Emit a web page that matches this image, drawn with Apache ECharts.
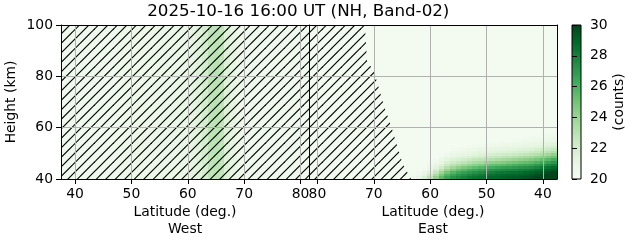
<!DOCTYPE html>
<html><head><meta charset="utf-8">
<script src="https://cdn.jsdelivr.net/npm/echarts@6/dist/echarts.min.js"></script>
<style>html,body{margin:0;padding:0;background:#fff}#c{width:631px;height:243px}</style>
</head><body><div id="c"></div>
<script>
// ---------- data ----------
const titleText = '2025-10-16 16:00 UT (NH, Band-02)';
const latTicks = [40, 50, 60, 70, 80];
const latRange = [37.5, 81.5];
const heightRange = [40, 100];
const heightStep = 20;
const countRange = [20, 30];
const countStep = 2;
const greens = ['#f7fcf5', '#e5f5e0', '#c7e9c0', '#a1d99b', '#74c476', '#41ab5d', '#238b45', '#006d2c', '#00441b'];

// cell centres (deg), each cell 1 deg wide
const latCenters = [38,39,40,41,42,43,44,45,46,47,48,49,50,51,52,53,54,55,56,57,58,59,60,61,62,63,64,65,66,67,68,69,70,71,72,73,74,75,76,77,78,79,80,81];
// West panel: counts per latitude column (uniform in height)
const westValues = [20.5,20.5,20.5,20.5,20.5,20.5,20.5,20.5,20.5,20.5,20.6,20.6,20.6,20.7,20.7,20.7,20.7,20.8,20.8,20.8,20.8,20.9,21.0,21.2,21.5,22.0,22.8,22.9,22.7,21.6,21.1,20.7,20.6,20.5,20.5,20.5,20.5,20.5,20.5,20.5,20.5,20.5,20.5,20.5];
// East panel: vertical profiles (40 km upward, 1 km cells) for lat 38..63; above each profile -> eastBase
const eastProfileLats = [38,39,40,41,42,43,44,45,46,47,48,49,50,51,52,53,54,55,56,57,58,59,60,61,62,63];
const eastProfiles = [
  [30,30,30,29.5,28.8,28.0,27.1,26.1,25.1,24.2,23.3,22.6,22.0,21.5,21.1,20.9,20.7,20.5,20.4,20.3],
  [30,30,29.8,29.2,28.5,27.7,26.7,25.7,24.7,23.8,23.0,22.3,21.8,21.4,21.0,20.8,20.6,20.4,20.3],
  [30,29.9,29.5,28.9,28.2,27.3,26.3,25.3,24.3,23.4,22.7,22.1,21.6,21.2,20.9,20.7,20.5,20.4,20.3],
  [29.9,29.6,29.2,28.6,27.8,26.9,25.9,24.9,24.0,23.1,22.4,21.9,21.4,21.1,20.8,20.6,20.4,20.3],
  [29.7,29.4,29.0,28.3,27.5,26.6,25.6,24.6,23.7,22.9,22.2,21.7,21.3,21.0,20.7,20.5,20.4,20.3],
  [29.5,29.2,28.8,28.1,27.3,26.4,25.4,24.4,23.5,22.7,22.0,21.6,21.2,20.9,20.7,20.5,20.3],
  [29.4,29.1,28.6,28.0,27.2,26.2,25.2,24.2,23.3,22.5,21.9,21.5,21.1,20.8,20.6,20.4,20.3],
  [29.3,29.0,28.5,27.8,27.0,26.0,25.0,24.0,23.1,22.4,21.8,21.4,21.0,20.8,20.6,20.4,20.3],
  [29.2,28.9,28.4,27.7,26.8,25.8,24.8,23.8,22.9,22.2,21.7,21.3,21.0,20.7,20.5,20.3],
  [29.1,28.8,28.3,27.6,26.7,25.6,24.6,23.6,22.8,22.1,21.6,21.2,20.9,20.7,20.5,20.3],
  [29.0,28.7,28.2,27.4,26.5,25.4,24.4,23.4,22.6,22.0,21.5,21.2,20.9,20.6,20.4,20.3],
  [28.9,28.6,28.0,27.2,26.2,25.2,24.2,23.2,22.5,21.9,21.4,21.1,20.8,20.6,20.4,20.3],
  [28.8,28.4,27.8,27.0,26.0,24.9,23.9,23.0,22.3,21.7,21.3,21.0,20.7,20.5,20.3],
  [28.6,28.2,27.5,26.7,25.7,24.6,23.6,22.8,22.1,21.6,21.2,20.9,20.6,20.4,20.3],
  [28.4,28.0,27.3,26.4,25.4,24.3,23.4,22.6,21.9,21.4,21.0,20.8,20.6,20.4,20.3],
  [28.2,27.7,27.0,26.1,25.1,24.0,23.1,22.3,21.7,21.2,20.9,20.7,20.5,20.3],
  [27.9,27.4,26.7,25.7,24.7,23.7,22.8,22.1,21.5,21.1,20.8,20.6,20.4,20.3],
  [27.6,27.1,26.3,25.3,24.3,23.3,22.5,21.8,21.3,21.0,20.7,20.5,20.3],
  [27.2,26.6,25.8,24.8,23.8,22.9,22.2,21.6,21.1,20.8,20.6,20.4,20.3],
  [26.5,25.9,25.0,24.0,23.1,22.3,21.7,21.2,20.9,20.6,20.4,20.3],
  [25.5,24.8,23.9,23.0,22.2,21.6,21.1,20.8,20.5,20.4,20.3],
  [24.2,23.5,22.7,22.0,21.4,21.0,20.7,20.5,20.3],
  [22.8,22.2,21.6,21.1,20.8,20.5,20.4,20.3],
  [21.8,21.3,20.9,20.6,20.4,20.3],
  [21.0,20.7,20.5,20.3],
  [20.6,20.4,20.3]
];
const eastBase = 20.25;
// hatched (masked) regions, outline in (lat, height)
const westHatchLat = [37.5, 37.5, 81.5, 81.5];
const westHatchHeight = [40, 100, 100, 40];
const eastHatchLat = [81.5, 71.6, 71.2, 70.0, 68.1, 66.7, 64.9, 63.4, 81.5];
const eastHatchHeight = [100, 100, 86, 82, 68, 59, 46, 40, 40];

// ---------- build series data ----------
const westCells = latCenters.map((la, i) => [la - 0.5, la + 0.5, heightRange[0], heightRange[1], westValues[i]]);
const eastCells = [];
latCenters.forEach((la) => {
  const pi = eastProfileLats.indexOf(la);
  const prof = pi >= 0 ? eastProfiles[pi] : [];
  prof.forEach((v, k) => eastCells.push([la - 0.5, la + 0.5, heightRange[0] + k, heightRange[0] + k + 1, v]));
  eastCells.push([la - 0.5, la + 0.5, heightRange[0] + prof.length, heightRange[1], eastBase]);
});

// hatch tile ("//" hatch)
const tileSize = 19;
const tile = document.createElement('canvas');
tile.width = tileSize; tile.height = tileSize;
const tctx = tile.getContext('2d');
tctx.strokeStyle = '#000'; tctx.lineWidth = 1.15;
for (let k = 0; k <= 4; k++) {
  const c = k * tileSize / 2;
  tctx.beginPath(); tctx.moveTo(c + 3, -3); tctx.lineTo(-3, c + 3); tctx.stroke();
}

function renderCell(params, api) {
  const a = api.coord([api.value(0), api.value(3)]);
  const b = api.coord([api.value(1), api.value(2)]);
  const x0 = Math.round(Math.min(a[0], b[0])), x1 = Math.round(Math.max(a[0], b[0]));
  const y0 = Math.round(Math.min(a[1], b[1])), y1 = Math.round(Math.max(a[1], b[1]));
  return { type: 'rect', shape: { x: x0, y: y0, width: x1 - x0, height: y1 - y0 }, style: { fill: api.visual('color') } };
}
function hatchRenderer(lats, hs) {
  return function (params, api) {
    const pts = lats.map((la, i) => api.coord([la, hs[i]]));
    return { type: 'polygon', shape: { points: pts }, style: { fill: { image: tile, repeat: 'repeat' }, stroke: null } };
  };
}
function renderColorbar(params, api) {
  const a = api.coord([api.value(0), api.value(3)]);
  const b = api.coord([api.value(1), api.value(2)]);
  return {
    type: 'rect',
    shape: { x: a[0], y: a[1], width: b[0] - a[0], height: b[1] - a[1] },
    style: {
      fill: new echarts.graphic.LinearGradient(0, 1, 0, 0, greens.map((c, i) => ({ offset: i / (greens.length - 1), color: c }))),
      stroke: '#000', lineWidth: 1
    }
  };
}

const FONT = 'DejaVu Sans';
const FS = 13.9;
const black = { color: '#000', width: 1 };
const gridLine = { show: true, lineStyle: { color: '#b0b0b0', width: 1 } };

function latAxis(gridIndex, inverse, name) {
  return {
    type: 'value', gridIndex, min: latRange[0], max: latRange[1], inverse, position: 'bottom', z: 5,
    axisLine: { show: true, onZero: false, lineStyle: black },
    axisTick: { show: true, length: 5, customValues: latTicks, lineStyle: black },
    axisLabel: { show: true, customValues: latTicks, color: '#000', fontSize: FS, fontFamily: FONT, margin: 8 },
    splitLine: gridLine,
    name, nameLocation: 'middle', nameGap: 25, nameMoveOverlap: false,
    nameTextStyle: { color: '#000', fontSize: FS, fontFamily: FONT, lineHeight: 16.7 }
  };
}
function spineX(gridIndex) {
  return { type: 'value', gridIndex, min: latRange[0], max: latRange[1], position: 'top', z: 6,
    axisLine: { show: true, onZero: false, lineStyle: black }, axisTick: { show: false }, axisLabel: { show: false }, splitLine: { show: false } };
}

const option = {
  animation: false,
  backgroundColor: '#fff',
  textStyle: { fontFamily: FONT },
  graphic: [{
    type: 'text', x: 298.3, y: 12, z: 10,
    style: { text: titleText, font: '16.7px "DejaVu Sans"', fill: '#000', align: 'center', verticalAlign: 'middle', textAlign: 'center', textVerticalAlign: 'middle' }
  }],
  grid: [
    { left: 61, top: 25, width: 248, height: 154, outerBoundsMode: 'none' },
    { left: 309, top: 25, width: 248, height: 154, outerBoundsMode: 'none' },
    { left: 572, top: 25, width: 9, height: 154, outerBoundsMode: 'none' }
  ],
  xAxis: [
    latAxis(0, false, 'Latitude (deg.)\nWest'),
    latAxis(1, true, 'Latitude (deg.)\nEast'),
    spineX(0),
    spineX(1),
    { type: 'value', gridIndex: 2, min: 0, max: 1, show: false }
  ],
  yAxis: [
    { type: 'value', gridIndex: 0, min: heightRange[0], max: heightRange[1], interval: heightStep, position: 'left', z: 4,
      axisLine: { show: true, onZero: false, lineStyle: black },
      axisTick: { show: true, length: 5, lineStyle: black },
      axisLabel: { color: '#000', fontSize: FS, fontFamily: FONT, margin: 8 },
      splitLine: gridLine,
      name: 'Height (km)', nameLocation: 'middle', nameRotate: 90, nameGap: 43, nameMoveOverlap: false,
      nameTextStyle: { color: '#000', fontSize: FS, fontFamily: FONT } },
    { type: 'value', gridIndex: 1, min: heightRange[0], max: heightRange[1], interval: heightStep, position: 'left', z: 4,
      axisLine: { show: true, onZero: false, lineStyle: black }, axisTick: { show: false }, axisLabel: { show: false },
      splitLine: gridLine },
    { type: 'value', gridIndex: 1, min: heightRange[0], max: heightRange[1], interval: heightStep, position: 'right', z: 6,
      axisLine: { show: true, onZero: false, lineStyle: black }, axisTick: { show: false }, axisLabel: { show: false },
      splitLine: { show: false } },
    { type: 'value', gridIndex: 2, min: countRange[0], max: countRange[1], interval: countStep, position: 'right', z: 6,
      axisLine: { show: false }, axisTick: { show: true, length: 5, lineStyle: black },
      axisLabel: { color: '#000', fontSize: FS, fontFamily: FONT, margin: 9 },
      splitLine: { show: false },
      name: '(counts)', nameLocation: 'middle', nameRotate: 90, nameGap: 31, nameMoveOverlap: false,
      nameTextStyle: { color: '#000', fontSize: FS, fontFamily: FONT } }
  ],
  visualMap: {
    type: 'continuous', show: false, min: countRange[0], max: countRange[1], dimension: 4, seriesIndex: [0, 1],
    inRange: { color: greens }
  },
  series: [
    { type: 'custom', xAxisIndex: 0, yAxisIndex: 0, renderItem: renderCell, data: westCells, z: 1, silent: true,
      encode: { x: [0, 1], y: [2, 3] } },
    { type: 'custom', xAxisIndex: 1, yAxisIndex: 1, renderItem: renderCell, data: eastCells, z: 1, silent: true,
      encode: { x: [0, 1], y: [2, 3] } },
    { type: 'custom', xAxisIndex: 0, yAxisIndex: 0, renderItem: hatchRenderer(westHatchLat, westHatchHeight), data: [[0]], z: 2, silent: true },
    { type: 'custom', xAxisIndex: 1, yAxisIndex: 1, renderItem: hatchRenderer(eastHatchLat, eastHatchHeight), data: [[0]], z: 2, silent: true },
    { type: 'custom', xAxisIndex: 4, yAxisIndex: 3, renderItem: renderColorbar, data: [[0, 1, countRange[0], countRange[1]]], z: 2, silent: true,
      encode: { x: [0, 1], y: [2, 3] } }
  ]
};
const chart = echarts.init(document.getElementById('c'), null, { renderer: 'canvas' });
chart.setOption(option);
</script>
</body></html>
